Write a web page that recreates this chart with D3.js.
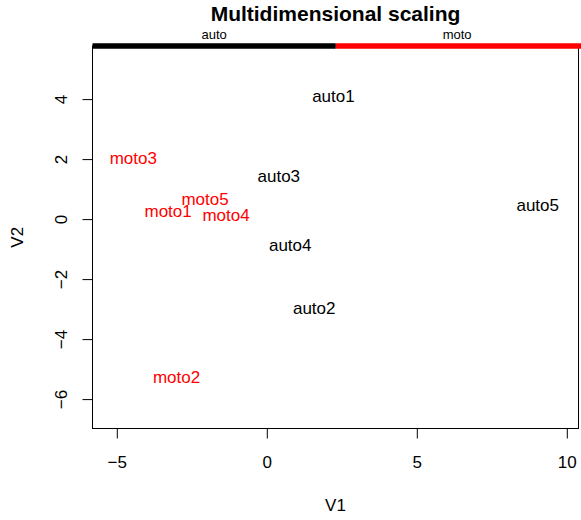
<!DOCTYPE html>
<html>
<head>
<meta charset="utf-8">
<script src="https://cdn.jsdelivr.net/npm/d3@7"></script>
<style>
  body { margin: 0; background: #fff; }
  text { font-family: "Liberation Sans", Arial, sans-serif; }
</style>
</head>
<body>
<div id="chart"></div>
<script>
// MDS coordinates
var labels = ["auto1", "auto2", "auto3", "auto4", "auto5", "moto1", "moto2", "moto3", "moto4", "moto5"];
var v1 = [2.22, 1.58, 0.40, 0.78, 9.03, -3.29, -3.01, -4.45, -1.36, -2.06];
var v2 = [4.07, -2.98, 1.41, -0.89, 0.43, 0.24, -5.28, 2.02, 0.10, 0.63];
var groups = ["auto", "auto", "auto", "auto", "auto", "moto", "moto", "moto", "moto", "moto"];

// group bar along the top
var groupNames = ["auto", "moto"];
var groupBreaks = [-5.81, 2.3, 10.5];
var groupColors = ["black", "red"];

var xTicks = [-5, 0, 5, 10];
var yTicks = [-6, -4, -2, 0, 2, 4];

var width = 581, height = 520;
var margin = {left: 92.5, right: 2.5, top: 46, bottom: 91.5};

var svg = d3.select("#chart").append("svg")
    .attr("width", width)
    .attr("height", height);

var x = d3.scaleLinear().domain([-5.81, 10.39]).range([margin.left, width - margin.right]);
var y = d3.scaleLinear().domain([-6.98, 5.77]).range([height - margin.bottom, margin.top]);

var color = d3.scaleOrdinal().domain(groupNames).range(groupColors);

// title
svg.append("text")
    .attr("x", (margin.left + width - margin.right) / 2)
    .attr("y", 21)
    .attr("text-anchor", "middle")
    .attr("font-size", "21px")
    .attr("font-weight", "bold")
    .text("Multidimensional scaling");

// plot box
svg.append("rect")
    .attr("x", margin.left)
    .attr("y", margin.top)
    .attr("width", width - margin.left - margin.right)
    .attr("height", height - margin.top - margin.bottom)
    .attr("fill", "none")
    .attr("stroke", "black");

// x axis
var xAxis = svg.append("g")
    .attr("transform", "translate(0," + (height - margin.bottom) + ")")
    .call(d3.axisBottom(x).tickValues(xTicks).tickSize(10).tickFormat(d3.format("")).tickPadding(17));
xAxis.select(".domain").remove();
xAxis.selectAll("text").attr("font-size", "17px").attr("font-family", "Liberation Sans, Arial, sans-serif").attr("fill", "black");

// y axis, labels rotated like base R
var yAxis = svg.append("g")
    .attr("transform", "translate(" + margin.left + ",0)")
    .call(d3.axisLeft(y).tickValues(yTicks).tickSize(10).tickFormat(d3.format("")));
yAxis.select(".domain").remove();
yAxis.selectAll(".tick text")
    .attr("x", null).attr("dy", null)
    .attr("text-anchor", "middle")
    .attr("transform", "translate(-26,0) rotate(-90)")
    .attr("font-size", "17px")
    .attr("font-family", "Liberation Sans, Arial, sans-serif")
    .attr("fill", "black");

// axis titles
svg.append("text")
    .attr("x", (margin.left + width - margin.right) / 2)
    .attr("y", 511)
    .attr("text-anchor", "middle")
    .attr("font-size", "17px")
    .text("V1");

svg.append("text")
    .attr("transform", "translate(23," + ((margin.top + height - margin.bottom) / 2) + ") rotate(-90)")
    .attr("text-anchor", "middle")
    .attr("font-size", "17px")
    .text("V2");

// group bar and names
var segs = groupNames.map(function(g, i) { return {name: g, from: groupBreaks[i], to: groupBreaks[i + 1]}; });

svg.selectAll(".seg")
    .data(segs)
    .enter()
    .append("line")
    .attr("class", "seg")
    .attr("x1", function(d) { return x(d.from); })
    .attr("x2", function(d) { return x(d.to); })
    .attr("y1", margin.top)
    .attr("y2", margin.top)
    .attr("stroke", function(d) { return color(d.name); })
    .attr("stroke-width", 5.5);

svg.selectAll(".segLabel")
    .data(segs)
    .enter()
    .append("text")
    .attr("class", "segLabel")
    .attr("x", function(d) { return (x(d.from) + x(Math.min(d.to, 10.39))) / 2; })
    .attr("y", 39)
    .attr("text-anchor", "middle")
    .attr("font-size", "13px")
    .text(function(d) { return d.name; });

// point labels
var points = labels.map(function(l, i) { return {label: l, v1: v1[i], v2: v2[i], group: groups[i]}; });

svg.selectAll(".pt")
    .data(points)
    .enter()
    .append("text")
    .attr("class", "pt")
    .attr("x", function(d) { return x(d.v1); })
    .attr("y", function(d) { return y(d.v2); })
    .attr("dy", "0.3em")
    .attr("text-anchor", "middle")
    .attr("font-size", "17px")
    .attr("fill", function(d) { return color(d.group); })
    .text(function(d) { return d.label; });
</script>
</body>
</html>
